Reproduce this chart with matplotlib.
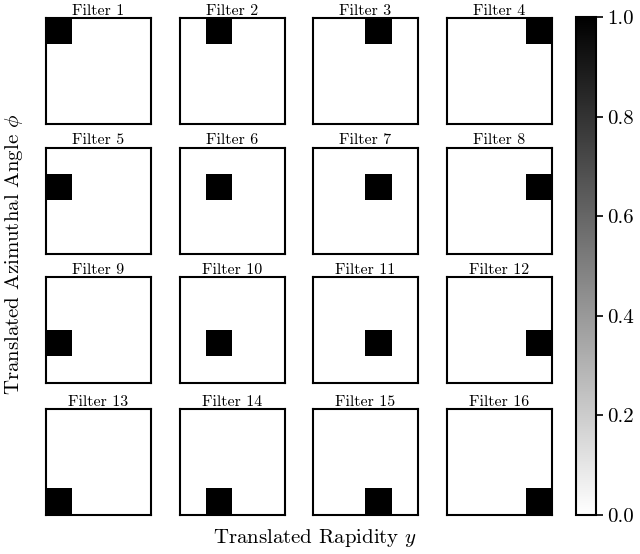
import numpy as np
import matplotlib
matplotlib.use("Agg")
import matplotlib.pyplot as plt

plt.rcParams['font.family'] = ['cmr10', 'DejaVu Serif']
plt.rcParams['mathtext.fontset'] = 'cm'
plt.rcParams['axes.unicode_minus'] = False
plt.rcParams['axes.formatter.use_mathtext'] = True

# one lit cell per 4x4 filter
filter_names = ["Filter %d" % i for i in range(1, 17)]
hot_rows = [0, 0, 0, 0, 1, 1, 1, 1, 2, 2, 2, 2, 3, 3, 3, 3]
hot_cols = [0, 1, 2, 3, 0, 1, 2, 3, 0, 1, 2, 3, 0, 1, 2, 3]
cbar_ticks = [0.0, 0.2, 0.4, 0.6, 0.8, 1.0]

W, H = 640, 554
fig = plt.figure(figsize=(W / 100, H / 100), dpi=100)

lefts = [46, 179.5, 313, 447]
tops = [18, 147.5, 277, 409]
pw, ph = 105, 106

im = None
for k in range(16):
    r, c = k // 4, k % 4
    ax = fig.add_axes([lefts[c] / W, 1 - (tops[r] + ph) / H, pw / W, ph / H])
    img = np.zeros((4, 4))
    img[hot_rows[k], hot_cols[k]] = 1.0
    im = ax.imshow(img, cmap='gray_r', vmin=0, vmax=1, aspect='auto',
                   interpolation='nearest')
    ax.set_xticks([])
    ax.set_yticks([])
    for s in ax.spines.values():
        s.set_linewidth(1.5)
    ax.set_title(filter_names[k], fontsize=11.5, pad=2)

cax = fig.add_axes([576 / W, 1 - 515 / H, 20 / W, 498 / H])
cb = fig.colorbar(im, cax=cax, ticks=cbar_ticks)
cb.ax.set_yticklabels(["%.1f" % t for t in cbar_ticks])
cb.ax.tick_params(labelsize=15, length=5, width=1.2, pad=3)
cb.outline.set_linewidth(1.5)

fig.text(315 / W, 1 - 538 / H, r"Translated Rapidity $y$", ha='center', va='center',
         fontsize=15)
fig.text(14 / W, 1 - 254 / H, r"Translated Azimuthal Angle $\phi$", ha='center',
         va='center', rotation=90, fontsize=15)

fig.savefig("out.png", dpi=100)
